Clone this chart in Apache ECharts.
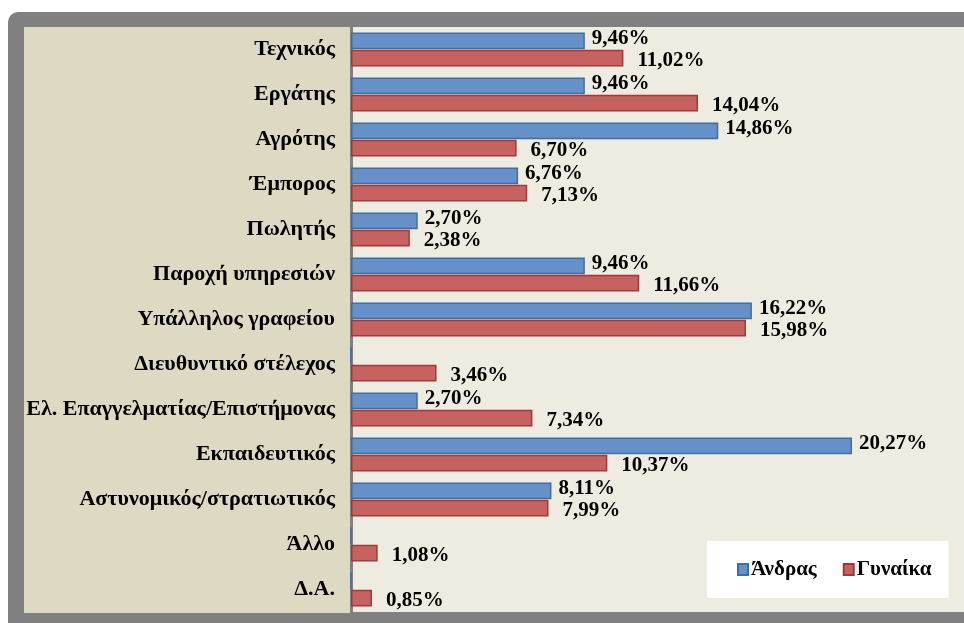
<!DOCTYPE html>
<html>
<head>
<meta charset="utf-8">
<script src="https://cdn.jsdelivr.net/npm/echarts@6/dist/echarts.min.js"></script>
<style>
    html, body { margin: 0; padding: 0; background: #ffffff; }
    #chart { width: 964px; height: 623px; }
</style>
</head>
<body>
<div id="chart"></div>
<script>
var categories = [
    'Τεχνικός', 'Εργάτης', 'Αγρότης', 'Έμπορος', 'Πωλητής', 'Παροχή υπηρεσιών',
    'Υπάλληλος γραφείου', 'Διευθυντικό στέλεχος', 'Ελ. Επαγγελματίας/Επιστήμονας',
    'Εκπαιδευτικός', 'Αστυνομικός/στρατιωτικός', 'Άλλο', 'Δ.Α.'
];
var seriesNames = ['Άνδρας', 'Γυναίκα'];
var men = [9.46, 9.46, 14.86, 6.76, 2.70, 9.46, 16.22, 0, 2.70, 20.27, 8.11, 0, 0];
var women = [11.02, 14.04, 6.70, 7.13, 2.38, 11.66, 15.98, 3.46, 7.34, 10.37, 7.99, 1.08, 0.85];

var serif = '"Liberation Serif", "DejaVu Serif", serif';

function pct(p) {
    if (!p.value) return '';
    return p.value.toFixed(2).replace('.', ',') + '%';
}

var chart = echarts.init(document.getElementById('chart'));

var option = {
    backgroundColor: '#ffffff',
    animation: false,
    textStyle: { fontFamily: serif },
    graphic: [
        // gray outer frame
        { type: 'rect', z: -10, shape: { x: 8, y: 12, width: 1000, height: 700, r: 10 },
          style: { fill: '#808080' } },
        // beige label panel
        { type: 'rect', z: -9, shape: { x: 24, y: 27, width: 328, height: 586 },
          style: { fill: '#DDD9C3' } }
    ],
    legend: {
        data: seriesNames,
        left: 707,
        top: 541,
        orient: 'horizontal',
        backgroundColor: '#ffffff',
        padding: [18, 17, 18, 30],
        itemGap: 26,
        itemWidth: 10,
        itemHeight: 11,
        icon: 'rect',
        textStyle: { fontFamily: serif, fontWeight: 'bold', fontSize: 21, color: '#000000', padding: [0, 0, 0, -2] }
    },
    grid: {
        left: 351,
        right: 0,
        top: 27,
        height: 585,
        show: true,
        backgroundColor: '#EEECE1',
        borderWidth: 0
    },
    xAxis: {
        type: 'value',
        min: 0,
        max: 24.8,
        show: false
    },
    yAxis: {
        type: 'category',
        data: categories,
        inverse: true,
        axisLine: { show: true, lineStyle: { color: '#808080', width: 3 } },
        axisTick: { show: false },
        axisLabel: {
            margin: 16,
            fontFamily: serif,
            fontWeight: 'bold',
            fontSize: 22,
            color: '#000000'
        }
    },
    series: [
        {
            name: seriesNames[0],
            type: 'bar',
            data: men,
            barGap: '2%',
            barCategoryGap: '24%',
            itemStyle: { color: '#6691C8', borderColor: '#3F6EA6', borderWidth: 1.5 },
            label: {
                show: true,
                position: 'right',
                distance: 7,
                offset: [0, -2],
                formatter: pct,
                fontFamily: serif,
                fontWeight: 'bold',
                fontSize: 21,
                color: '#000000'
            }
        },
        {
            name: seriesNames[1],
            type: 'bar',
            data: women,
            itemStyle: { color: '#C6625F', borderColor: '#A03A38', borderWidth: 1.5 },
            label: {
                show: true,
                position: 'right',
                distance: 14,
                offset: [0, 2],
                formatter: pct,
                fontFamily: serif,
                fontWeight: 'bold',
                fontSize: 21,
                color: '#000000'
            }
        }
    ]
};

chart.setOption(option);
</script>
</body>
</html>
